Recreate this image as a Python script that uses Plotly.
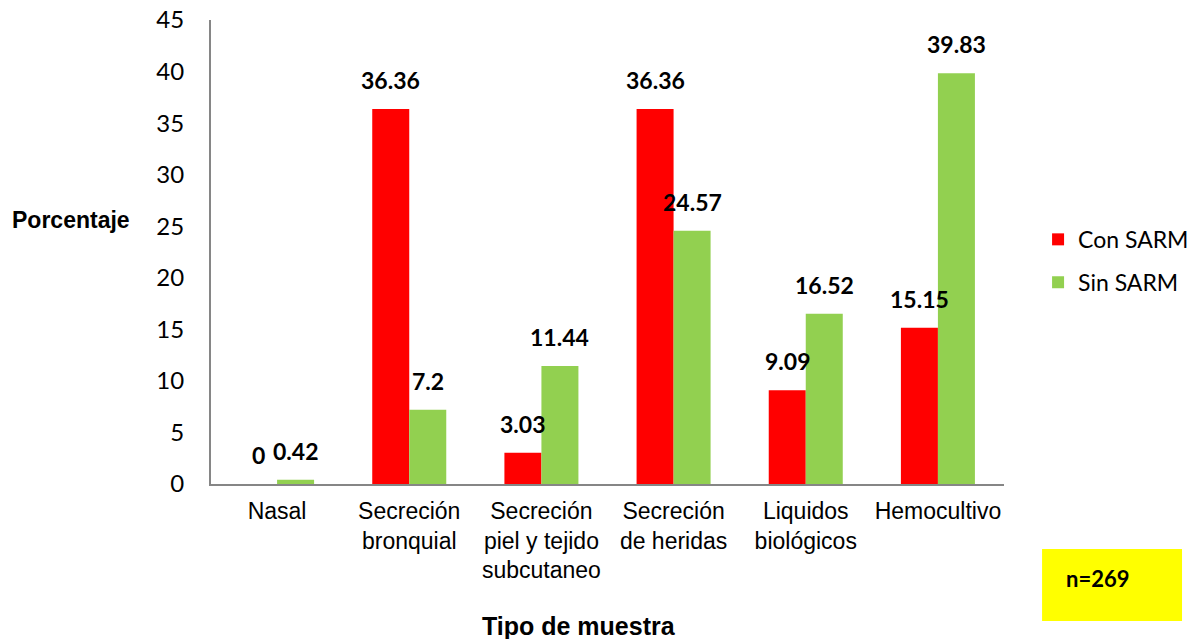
import plotly.graph_objects as go

categorias = ["Nasal", "Secreción<br>bronquial", "Secreción<br>piel y tejido<br>subcutaneo",
              "Secreción<br>de heridas", "Liquidos<br>biológicos", "Hemocultivo"]
con_sarm = [0, 36.36, 3.03, 36.36, 9.09, 15.15]
sin_sarm = [0.42, 7.2, 11.44, 24.57, 16.52, 39.83]
y_ticks = [0, 5, 10, 15, 20, 25, 30, 35, 40, 45]

ROJO = "#FF0000"
VERDE = "#92D050"
CAL = "Lato, Open Sans, sans-serif"
ARIAL = "Liberation Sans, Arial, sans-serif"

fig = go.Figure()
fig.add_trace(go.Bar(x=categorias, y=con_sarm, name="Con SARM", marker_color=ROJO,
                     marker_line_width=0, legendgroup="a"))
fig.add_trace(go.Bar(x=categorias, y=sin_sarm, name="Sin SARM", marker_color=VERDE,
                     marker_line_width=0, legendgroup="b"))

# value labels above each bar
for serie, shift in ((con_sarm, -18.5), (sin_sarm, 18.5)):
    for cat, v in zip(categorias, serie):
        fig.add_annotation(x=cat, y=v, text=f"<b>{v:g}</b>", showarrow=False,
                           xshift=shift, yshift=13, yanchor="bottom",
                           font=dict(family=CAL, size=23, color="black"))

fig.add_annotation(xref="paper", yref="paper", x=-0.2535, y=0.57, xanchor="left",
                   yanchor="middle", text="<b>Porcentaje</b>", showarrow=False,
                   font=dict(family=ARIAL, size=23, color="black"))
fig.add_annotation(xref="paper", yref="paper", x=0.464, y=-0.306, yanchor="middle",
                   text="<b>Tipo de muestra</b>", showarrow=False,
                   font=dict(family=ARIAL, size=25, color="black"))

# sample size box
fig.add_shape(type="rect", xref="paper", yref="paper", x0=1.048, x1=1.2245,
              y0=-0.295, y1=-0.140, fillcolor="#FFFF00", line_width=0, layer="below")
fig.add_annotation(xref="paper", yref="paper", x=1.1185, y=-0.2026, xanchor="center",
                   yanchor="middle", text="<b>n=269</b>", showarrow=False,
                   font=dict(family=CAL, size=22, color="black"))

fig.update_layout(
    width=1198, height=639,
    margin=dict(l=211, r=194, t=20, b=155, autoexpand=False),
    paper_bgcolor="white", plot_bgcolor="white",
    barmode="group", bargap=0.44, bargroupgap=0,
    showlegend=True,
    legend=dict(xref="container", yref="container", x=0.8665, y=0.659,
                xanchor="left", yanchor="top",
                font=dict(family=CAL, size=23, color="black"),
                tracegroupgap=10, itemwidth=30, bgcolor="rgba(0,0,0,0)"),
    xaxis=dict(showline=True, linecolor="#868686", linewidth=2, ticks="",
               tickfont=dict(family=ARIAL, size=23, color="black"),
               ticklabelstandoff=5, showgrid=False, zeroline=False, automargin=False),
    yaxis=dict(range=[0, 45], tickvals=y_ticks, showline=True, linecolor="#868686",
               linewidth=2, ticks="", showgrid=False, zeroline=False, automargin=False,
               tickfont=dict(family=CAL, size=24, color="black"),
               ticklabelstandoff=20),
)

fig.write_html("out.html")
